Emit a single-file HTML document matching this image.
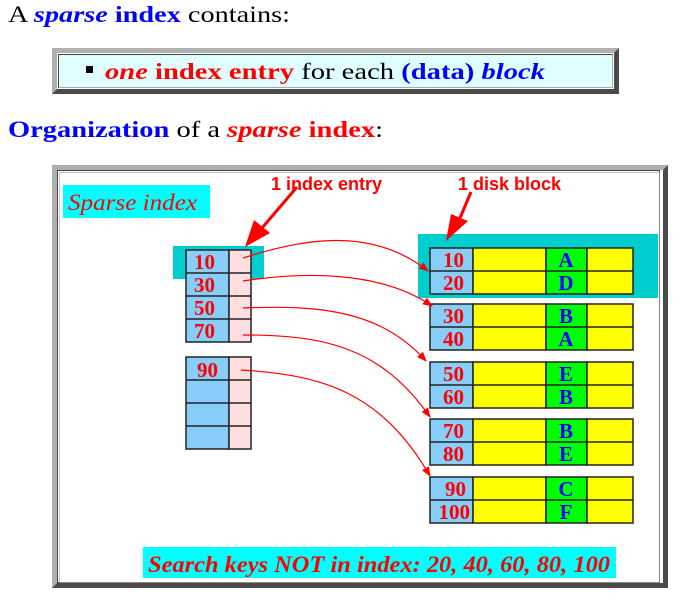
<!DOCTYPE html>
<html><head><style>
body{margin:0;width:697px;height:601px;background:#fff;overflow:hidden;position:relative;font-family:"Liberation Serif",serif;}
.b{color:#00f;font-weight:bold}.r{color:#f00;font-weight:bold}
</style></head><body>
<div style="position:absolute;left:52px;top:48px;width:557px;height:36px;border:5px solid;border-color:#b0b0b0 #4a4a4a #4a4a4a #b0b0b0;">
 <div style="position:absolute;left:1px;top:1px;right:1px;bottom:1px;border:1px solid;border-color:#444 #aaa #aaa #444;background:#e0ffff"></div>
</div>
<svg style="position:absolute;left:0;top:0" width="697" height="601">
<g font-family="Liberation Serif,serif" font-size="23">
<text x="8" y="22" textLength="282" lengthAdjust="spacingAndGlyphs">A <tspan fill="#00f" font-weight="bold" font-style="italic">sparse</tspan> <tspan fill="#00f" font-weight="bold">index</tspan> contains:</text>
<rect x="86" y="66" width="7" height="7" fill="#000"/>
<text x="105" y="79" textLength="440" lengthAdjust="spacingAndGlyphs"><tspan fill="#f00" font-weight="bold" font-style="italic">one</tspan> <tspan fill="#f00" font-weight="bold">index entry</tspan> for each <tspan fill="#00f" font-weight="bold">(data)</tspan> <tspan fill="#00f" font-weight="bold" font-style="italic">block</tspan></text>
<text x="8" y="137" textLength="375" lengthAdjust="spacingAndGlyphs"><tspan fill="#00f" font-weight="bold">Organization</tspan> of a <tspan fill="#f00" font-weight="bold" font-style="italic">sparse</tspan> <tspan fill="#f00" font-weight="bold">index</tspan>:</text>
</g>
<rect x="52" y="165" width="616" height="423" fill="#b0b0b0"/>
<polygon points="668,165 668,588 52,588 57,583 663,583 663,170" fill="#4a4a4a"/>
<rect x="57" y="170" width="606" height="413" fill="#fff"/>
<rect x="57.5" y="170.5" width="602" height="412" fill="none" stroke="#444"/>
<rect x="59.5" y="172.5" width="600" height="410" fill="none" stroke="#aaa" stroke-width="0.7"/>
<g font-family="Liberation Serif,serif" font-weight="bold" font-size="21">
<rect x="63" y="185" width="147" height="33" fill="#0ff"/>
<text x="68" y="210" fill="#f00" font-style="italic" font-weight="normal" font-size="23" textLength="129" lengthAdjust="spacingAndGlyphs">Sparse index</text>
<rect x="173" y="246" width="91" height="33" fill="#00cece"/>
<g stroke="#222" stroke-width="1.5">
<rect x="186" y="250" width="43" height="92" fill="#87cefa"/><rect x="229" y="250" width="22" height="92" fill="#ffdfdf"/>
<rect x="186" y="357" width="43" height="92" fill="#87cefa"/><rect x="229" y="357" width="22" height="92" fill="#ffdfdf"/>
<path d="M186 273H251M186 296H251M186 319H251M186 380H251M186 403H251M186 426H251" fill="none"/>
</g>
<g fill="#f00"><text x="194" y="269">10</text><text x="194" y="292">30</text><text x="194" y="315">50</text><text x="194" y="338">70</text><text x="197" y="377">90</text></g>
<rect x="418" y="234" width="240" height="64" fill="#00cece"/>
<g stroke="#222" stroke-width="1.5">
<g id="blk">
<rect x="430" y="248" width="43" height="46" fill="#87cefa"/><rect x="473" y="248" width="73" height="46" fill="#ff0"/><rect x="546" y="248" width="41" height="46" fill="#0f0"/><rect x="587" y="248" width="46" height="46" fill="#ff0"/><path d="M430 271H633"/>
</g>
<use href="#blk" y="56"/><use href="#blk" y="114"/><use href="#blk" y="171"/><use href="#blk" y="229"/>
</g>
<g fill="#f00" text-anchor="end"><text x="464" y="267">10</text><text x="464" y="290">20</text><text x="464" y="323">30</text><text x="464" y="346">40</text><text x="464" y="381">50</text><text x="464" y="404">60</text><text x="464" y="438">70</text><text x="464" y="461">80</text><text x="466" y="496">90</text><text x="470" y="519">100</text></g>
<g fill="#00f" text-anchor="middle"><text x="566" y="267">A</text><text x="566" y="290">D</text><text x="566" y="323">B</text><text x="566" y="346">A</text><text x="566" y="381">E</text><text x="566" y="404">B</text><text x="566" y="438">B</text><text x="566" y="461">E</text><text x="566" y="496">C</text><text x="566" y="519">F</text></g>
<rect x="143" y="547" width="473" height="31" fill="#0ff"/>
<text x="148" y="572" fill="#f00" font-style="italic" font-size="23" textLength="462" lengthAdjust="spacingAndGlyphs">Search keys NOT in index: 20, 40, 60, 80, 100</text>
</g>
<g font-family="Liberation Sans,sans-serif" font-weight="bold" font-size="18" fill="#f00">
<text x="271" y="190">1 index entry</text><text x="458" y="190">1 disk block</text>
</g>
<defs><marker id="a" markerWidth="10" markerHeight="8" refX="9" refY="4" orient="auto" markerUnits="userSpaceOnUse"><path d="M0 0L10 4L0 8z" fill="#f00"/></marker></defs>
<g stroke="#f00" fill="none" stroke-width="1.2" marker-end="url(#a)">
<path d="M243 258C300 240 370 225 428 271"/>
<path d="M243 281C300 272 380 270 432 306"/>
<path d="M243 308C320 305 380 310 426 361"/>
<path d="M243 335C320 335 380 345 430 417"/>
<path d="M241 370C320 375 380 390 430 476"/>
</g>
<line x1="297" y1="187" x2="262" y2="228" stroke="#f00" stroke-width="3"/>
<polygon points="245,247 254,220 270,233" fill="#f00"/>
<line x1="471" y1="192" x2="460" y2="218" stroke="#f00" stroke-width="3"/>
<polygon points="446,241 451,214 468,221" fill="#f00"/>
</svg>
</body></html>
